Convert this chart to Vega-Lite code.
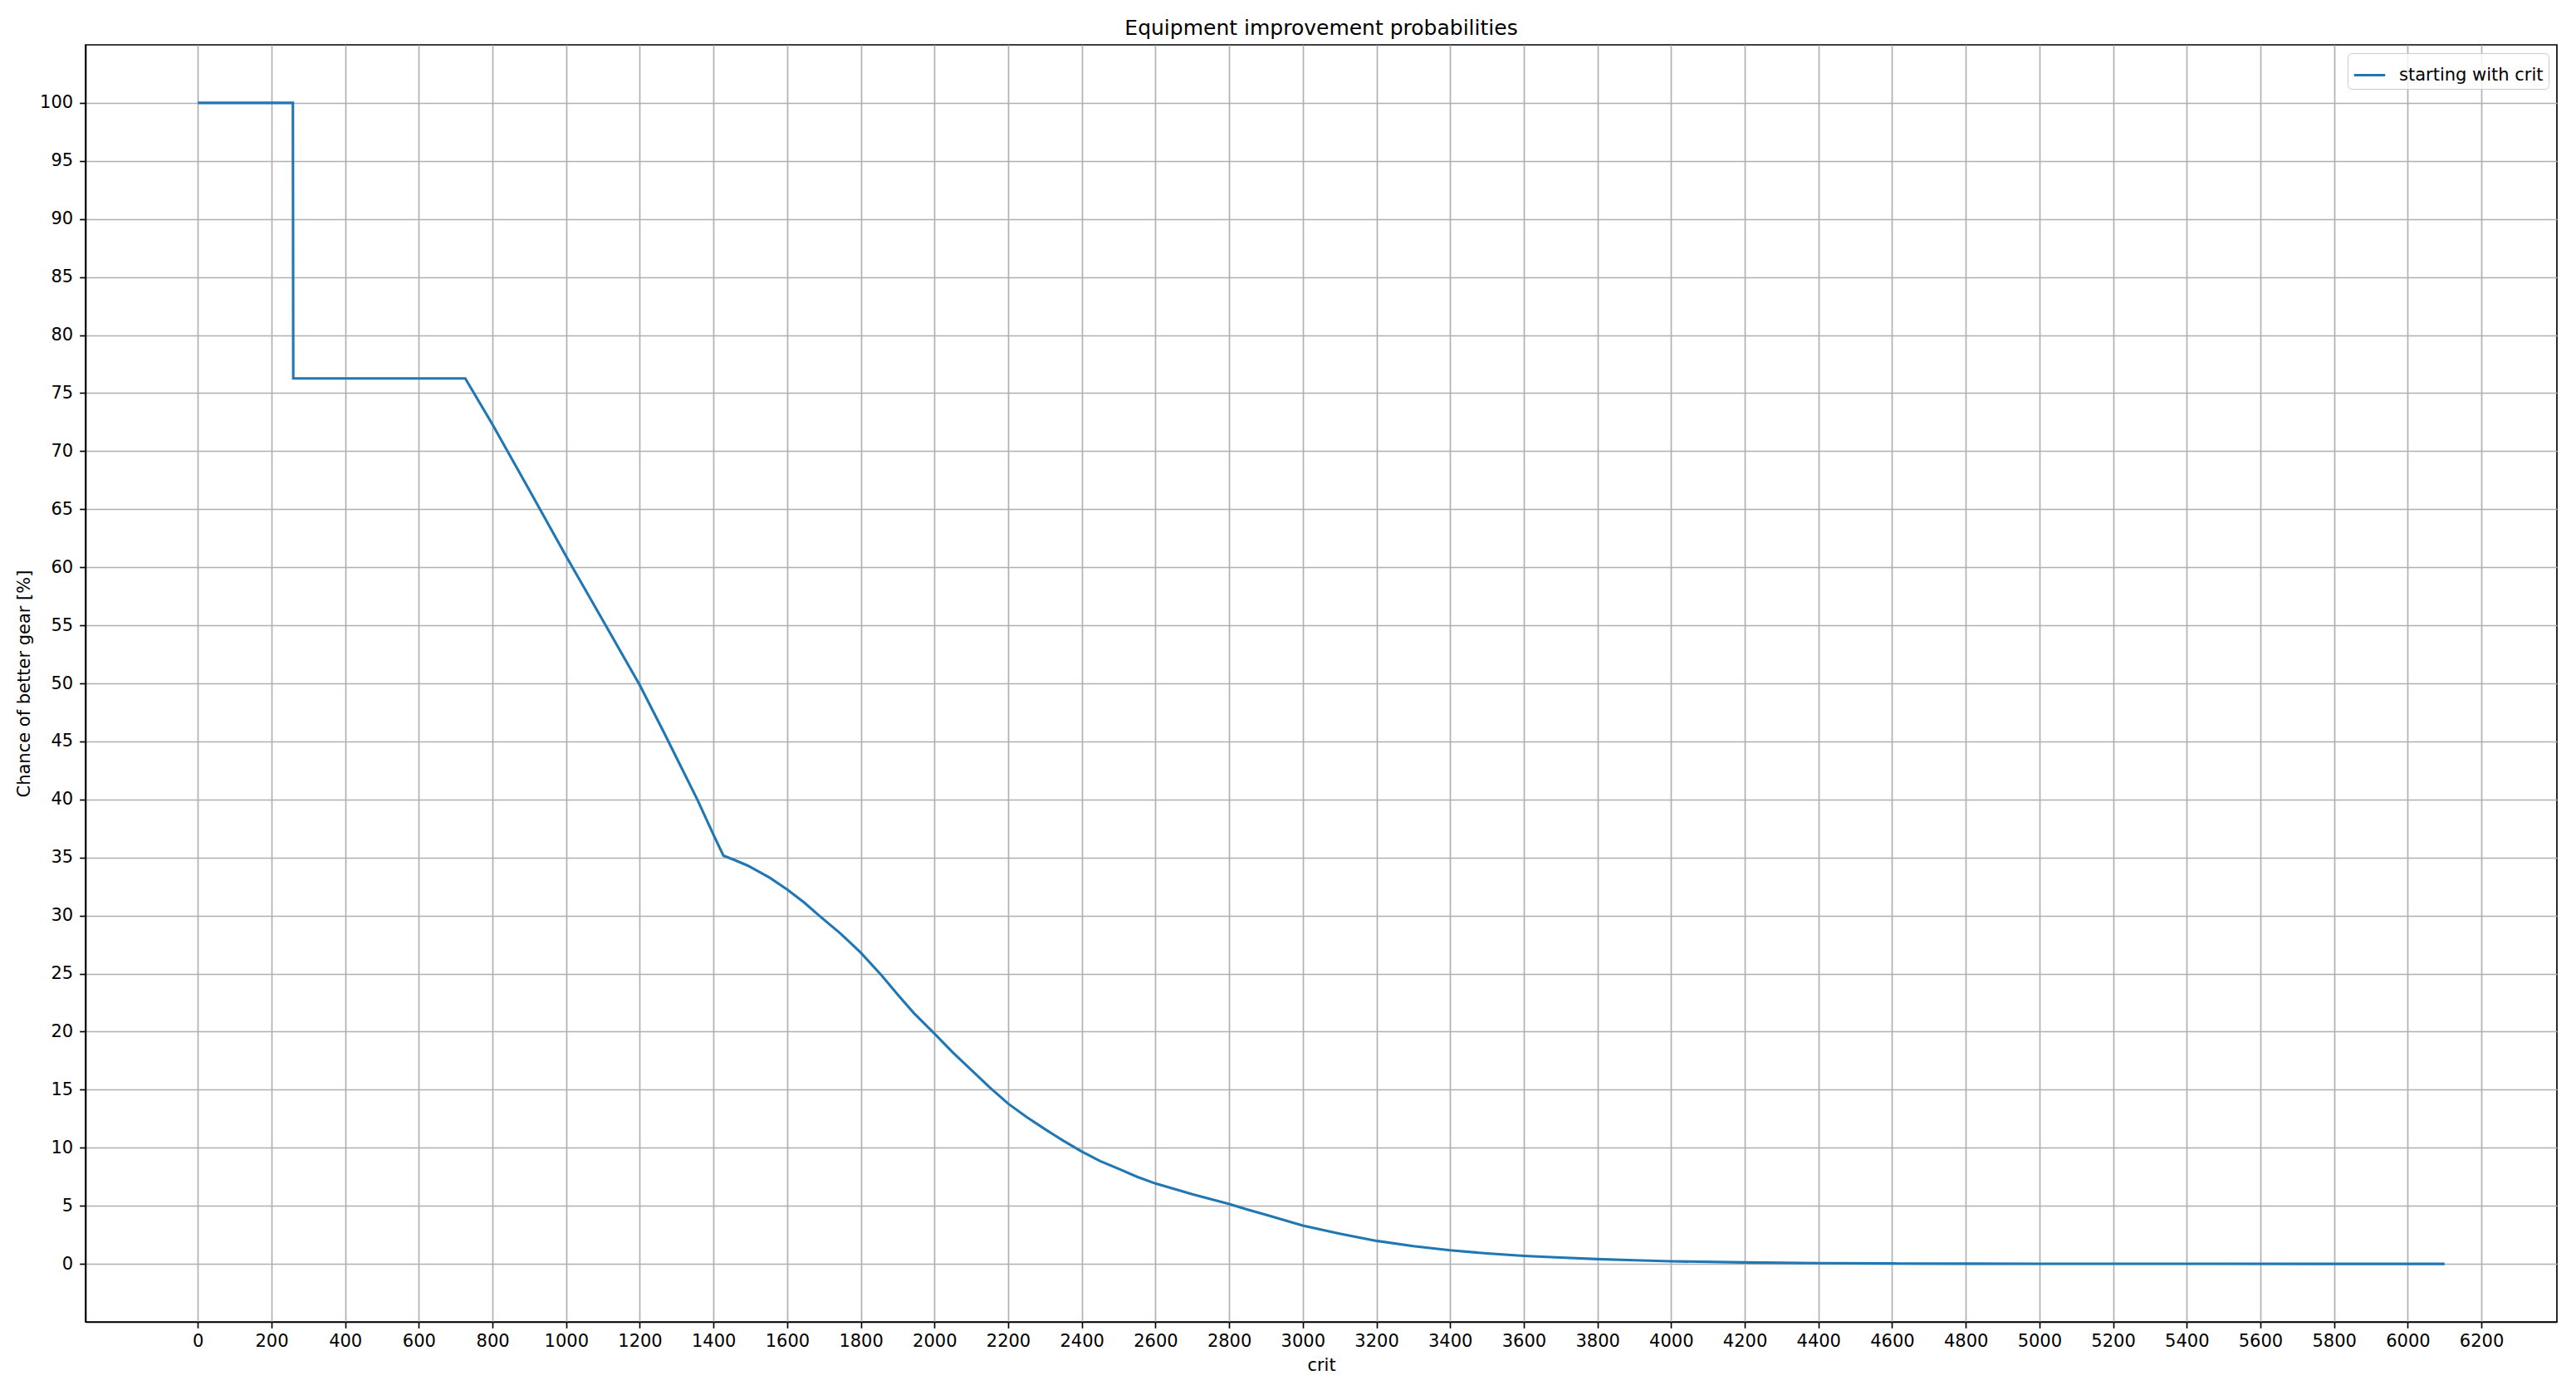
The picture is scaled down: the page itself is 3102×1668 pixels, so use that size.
{
  "$schema": "https://vega.github.io/schema/vega-lite/v6.json",
  "autosize": {"type": "none"},
  "padding": {"left": 103, "top": 54, "right": 23, "bottom": 76},
  "width": 2976,
  "height": 1538,
  "background": "white",
  "title": {"text": "Equipment improvement probabilities", "fontSize": 25, "fontWeight": "normal", "color": "black", "offset": 7, "anchor": "middle"},
  "data": {"values": [
    {"crit": 0, "chance": 100, "series": "starting with crit"},
    {"crit": 258, "chance": 100, "series": "starting with crit"},
    {"crit": 259, "chance": 76.27, "series": "starting with crit"},
    {"crit": 726, "chance": 76.27, "series": "starting with crit"},
    {"crit": 800, "chance": 72.3, "series": "starting with crit"},
    {"crit": 900, "chance": 66.65, "series": "starting with crit"},
    {"crit": 1000, "chance": 60.94, "series": "starting with crit"},
    {"crit": 1100, "chance": 55.4, "series": "starting with crit"},
    {"crit": 1200, "chance": 49.84, "series": "starting with crit"},
    {"crit": 1267, "chance": 45.67, "series": "starting with crit"},
    {"crit": 1300, "chance": 43.56, "series": "starting with crit"},
    {"crit": 1356, "chance": 40.0, "series": "starting with crit"},
    {"crit": 1400, "chance": 36.95, "series": "starting with crit"},
    {"crit": 1427, "chance": 35.16, "series": "starting with crit"},
    {"crit": 1460, "chance": 34.75, "series": "starting with crit"},
    {"crit": 1493, "chance": 34.3, "series": "starting with crit"},
    {"crit": 1553, "chance": 33.25, "series": "starting with crit"},
    {"crit": 1600, "chance": 32.25, "series": "starting with crit"},
    {"crit": 1645, "chance": 31.15, "series": "starting with crit"},
    {"crit": 1688, "chance": 29.96, "series": "starting with crit"},
    {"crit": 1745, "chance": 28.45, "series": "starting with crit"},
    {"crit": 1800, "chance": 26.8, "series": "starting with crit"},
    {"crit": 1857, "chance": 24.83, "series": "starting with crit"},
    {"crit": 1900, "chance": 23.2, "series": "starting with crit"},
    {"crit": 1944, "chance": 21.6, "series": "starting with crit"},
    {"crit": 2000, "chance": 19.83, "series": "starting with crit"},
    {"crit": 2050, "chance": 18.2, "series": "starting with crit"},
    {"crit": 2100, "chance": 16.7, "series": "starting with crit"},
    {"crit": 2150, "chance": 15.2, "series": "starting with crit"},
    {"crit": 2200, "chance": 13.8, "series": "starting with crit"},
    {"crit": 2250, "chance": 12.65, "series": "starting with crit"},
    {"crit": 2300, "chance": 11.6, "series": "starting with crit"},
    {"crit": 2350, "chance": 10.6, "series": "starting with crit"},
    {"crit": 2400, "chance": 9.67, "series": "starting with crit"},
    {"crit": 2450, "chance": 8.85, "series": "starting with crit"},
    {"crit": 2500, "chance": 8.19, "series": "starting with crit"},
    {"crit": 2550, "chance": 7.5, "series": "starting with crit"},
    {"crit": 2600, "chance": 6.92, "series": "starting with crit"},
    {"crit": 2700, "chance": 6.0, "series": "starting with crit"},
    {"crit": 2800, "chance": 5.16, "series": "starting with crit"},
    {"crit": 2850, "chance": 4.68, "series": "starting with crit"},
    {"crit": 2900, "chance": 4.22, "series": "starting with crit"},
    {"crit": 3000, "chance": 3.29, "series": "starting with crit"},
    {"crit": 3100, "chance": 2.6, "series": "starting with crit"},
    {"crit": 3200, "chance": 1.98, "series": "starting with crit"},
    {"crit": 3300, "chance": 1.53, "series": "starting with crit"},
    {"crit": 3400, "chance": 1.17, "series": "starting with crit"},
    {"crit": 3500, "chance": 0.9, "series": "starting with crit"},
    {"crit": 3600, "chance": 0.69, "series": "starting with crit"},
    {"crit": 3700, "chance": 0.54, "series": "starting with crit"},
    {"crit": 3800, "chance": 0.41, "series": "starting with crit"},
    {"crit": 3900, "chance": 0.31, "series": "starting with crit"},
    {"crit": 4000, "chance": 0.22, "series": "starting with crit"},
    {"crit": 4200, "chance": 0.12, "series": "starting with crit"},
    {"crit": 4400, "chance": 0.06, "series": "starting with crit"},
    {"crit": 4600, "chance": 0.03, "series": "starting with crit"},
    {"crit": 4800, "chance": 0.015, "series": "starting with crit"},
    {"crit": 5000, "chance": 0.008, "series": "starting with crit"},
    {"crit": 5500, "chance": 0.002, "series": "starting with crit"},
    {"crit": 6100, "chance": 0.0, "series": "starting with crit"}
  ]},
  "mark": {"type": "line", "strokeWidth": 3.1, "interpolate": "linear", "clip": true},
  "encoding": {
    "x": {
      "field": "crit", "type": "quantitative",
      "scale": {"domain": [-305, 6405], "nice": false, "zero": false},
      "axis": {
        "title": "crit",
        "values": [0,200,400,600,800,1000,1200,1400,1600,1800,2000,2200,2400,2600,2800,3000,3200,3400,3600,3800,4000,4200,4400,4600,4800,5000,5200,5400,5600,5800,6000,6200],
        "format": "d",
        "labelPadding": 5,
        "titlePadding": 8
      }
    },
    "y": {
      "field": "chance", "type": "quantitative",
      "scale": {"domain": [-5, 105], "nice": false, "zero": false},
      "axis": {
        "title": "Chance of better gear [%]",
        "values": [0,5,10,15,20,25,30,35,40,45,50,55,60,65,70,75,80,85,90,95,100],
        "format": "d",
        "labelPadding": 8,
        "titlePadding": 8
      }
    },
    "color": {
      "field": "series", "type": "nominal",
      "scale": {"domain": ["starting with crit"], "range": ["#1f77b4"]},
      "legend": {
        "title": null,
        "orient": "top-right",
        "offset": 10,
        "symbolType": "stroke",
        "symbolSize": 1400,
        "symbolStrokeWidth": 3.1,
        "labelFontSize": 21,
        "labelColor": "black",
        "labelLimit": 500,
        "labelOffset": 15,
        "padding": 6,
        "strokeColor": "#cccccc",
        "fillColor": "rgba(255,255,255,0.8)",
        "cornerRadius": 5
      }
    }
  },
  "config": {
    "font": "DejaVu Sans",
    "view": {"stroke": "black", "strokeWidth": 1.67},
    "axis": {
      "labelFont": "DejaVu Sans",
      "titleFont": "DejaVu Sans",
      "labelFontSize": 21,
      "titleFontSize": 21,
      "titleFontWeight": "normal",
      "labelColor": "black",
      "titleColor": "black",
      "domainColor": "black",
      "domainWidth": 1.67,
      "tickColor": "black",
      "tickWidth": 1.67,
      "tickSize": 7.3,
      "grid": true,
      "gridColor": "#b0b0b0",
      "gridWidth": 1.67,
      "labelFlush": false,
      "labelOverlap": false
    },
    "legend": {"labelFont": "DejaVu Sans"}
  }
}
